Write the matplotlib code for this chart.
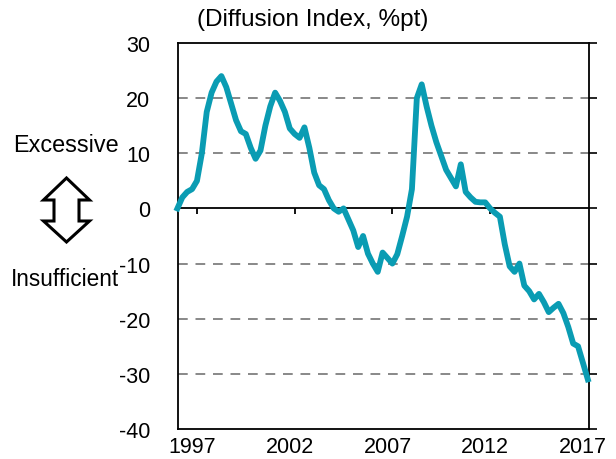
import matplotlib
matplotlib.use('Agg')
import matplotlib.pyplot as plt
from matplotlib.patches import Polygon

plt.rcParams['font.family'] = ['Liberation Sans', 'DejaVu Sans']
plt.rcParams['axes.unicode_minus'] = False

# --- Data: quarterly diffusion index, starting 1996 Q2 ---
START_YEAR = 1996.25
di_values = [
    0, 2, 3, 3.5, 5, 10, 17.5, 21, 23, 24,
    22, 19, 16, 14, 13.5, 11, 9, 10.5, 15, 18.5,
    21, 19.5, 17.5, 14.5, 13.5, 12.8, 14.7, 11, 6.5, 4.2,
    3.5, 1.5, 0, -0.6, 0, -2, -4, -7, -5, -8.2,
    -10, -11.5, -8, -9, -10, -8.3, -5, -1.5, 3.5, 20,
    22.5, 18.5, 15, 12, 9.5, 7, 5.5, 4, 8, 3,
    2, 1.2, 1.1, 1.1, 0, -0.8, -1.5, -6.5, -10.5, -11.5,
    -10, -14, -15, -16.5, -15.5, -17, -18.8, -18, -17.3, -19,
    -21.5, -24.5, -25, -28, -31,
]
x_years = [START_YEAR + 0.25 * i for i in range(len(di_values))]

year_labels = [1997, 2002, 2007, 2012, 2017]
y_ticks = [30, 20, 10, 0, -10, -20, -30, -40]

LINE_COLOR = '#0A9CB3'

fig = plt.figure(figsize=(6.16, 4.6), dpi=100)
ax = fig.add_axes([178 / 616, 1 - 430 / 460, (589 - 178) / 616, (430 - 44) / 460])

# gridlines
for y in [-30, -20, -10, 10, 20]:
    ax.axhline(y, color='#888888', lw=1.4, ls=(0, (5, 4)), zorder=1)
ax.axhline(0, color='black', lw=1.3, zorder=2)

ax.plot(x_years, di_values, color=LINE_COLOR, lw=4.2, solid_joinstyle='round',
        zorder=3, clip_on=False)

ax.set_xlim(1996.28, 2017.31)
ax.set_ylim(-40, 30)

# small year ticks hanging from the zero line
tick_pos = [yr + 0.25 for yr in year_labels[:-1]]
ax.vlines(tick_pos, -1.0, 0, color='black', lw=1.3, zorder=2)

ax.set_xticks(year_labels)
ax.set_xticklabels([str(y) for y in year_labels])
ax.tick_params(axis='x', length=0, pad=5, labelsize=15.5)

ax.set_yticks(y_ticks)
ax.tick_params(axis='y', left=False, right=True, length=6, width=1.2,
               direction='out', pad=14, labelsize=15.5)

for s in ax.spines.values():
    s.set_color('black')
    s.set_linewidth(1.3)

fig.text(313 / 616, 1 - 20 / 460, '(Diffusion Index, %pt)', ha='center',
         va='center', fontsize=17.5)
fig.text(13 / 616, 1 - 145 / 460, 'Excessive', ha='left', va='center', fontsize=16.8)
fig.text(11 / 616, 1 - 279 / 460, 'Insufficient', ha='left', va='center', fontsize=16.3)

# hollow double arrow
arrow_px = [(66.5, 179), (89.5, 201), (79, 201), (79, 222), (89.5, 222),
            (66.5, 243), (43.5, 222), (54, 222), (54, 201), (43.5, 201)]
arrow = Polygon([(x / 616, 1 - y / 460) for x, y in arrow_px], closed=True,
                transform=fig.transFigure, facecolor='white', edgecolor='black',
                lw=2.2, joinstyle='miter')
fig.patches.append(arrow)

fig.savefig('out.png', dpi=100)
